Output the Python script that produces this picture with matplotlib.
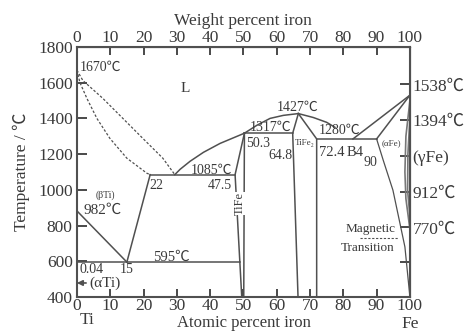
"""Ti-Fe phase diagram (atomic / weight percent iron vs temperature)."""

import matplotlib
matplotlib.use("Agg")
from matplotlib import pyplot as plt

plt.rcParams["font.family"] = ["Liberation Serif", "Noto Sans CJK JP", "DejaVu Serif"]

LINE = "#505050"
TEXT = "#3a3a3a"

# boundaries: x = atomic % Fe, t = temperature in C
liq_bti_x = [0, 1.8, 7.8, 13.8, 19.8, 25.8, 29.4]
liq_bti_t = [1670, 1612, 1512, 1400, 1288, 1177, 1085]
sol_bti_x = [0, 0.9, 3.0, 6.0, 9.9, 15.0, 21.0, 22]
sol_bti_t = [1670, 1601, 1512, 1400, 1288, 1177, 1093, 1085]

liq_tife_x = [29.4, 31, 34, 38, 43, 50.3]
liq_tife_t = [1085, 1115, 1160, 1210, 1260, 1317]
liq_peak_left_x = [50.3, 54, 58, 62, 66.5]
liq_peak_left_t = [1317, 1361, 1400, 1417, 1427]
liq_peak_right_x = [66.5, 71, 75, 77.5]
liq_peak_right_t = [1427, 1405, 1378, 1350]
liq_fe_x = [82.9, 100]
liq_fe_t = [1285, 1530]
sol_dfe_x = [90, 100]
sol_dfe_t = [1285, 1530]

bti_transus_x = [0, 15]
bti_transus_t = [882, 595]
bti_solvus_x = [15, 22]
bti_solvus_t = [595, 1085]

tife_left_x = [50.3, 47.5, 49.5]
tife_left_t = [1317, 1085, 400]
tife_right_x = [50.3, 50.1]
tife_right_t = [1317, 400]
tife2_left_x = [66.5, 64.8, 66.4]
tife2_left_t = [1427, 1317, 400]
tife2_right_x = [66.5, 72, 72]
tife2_right_t = [1427, 1285, 400]

afe_x = [90, 92, 94.9, 97, 98.5, 100]
afe_t = [1285, 1165, 998, 813, 680, 400]
gamma_outer_x = [100, 98.8, 98.5, 98.8, 100]
gamma_outer_t = [1500, 1300, 1100, 950, 780]
gamma_inner_x = [100, 99.4, 99.3, 100]
gamma_inner_t = [1400, 1200, 1000, 850]

iso_t = [1085, 1317, 1285, 595]
iso_x0 = [22, 50.3, 72, 0]
iso_x1 = [47.5, 64.8, 90, 48.9]

magnetic_x = [85, 96.4]
magnetic_t = [728, 728]

temp_ticks = [400, 600, 800, 1000, 1200, 1400, 1600, 1800]
pct_ticks = [0, 10, 20, 30, 40, 50, 60, 70, 80, 90, 100]
right_ticks = [1590, 1390, 1190, 990, 790, 595]
right_labels = ["1538℃", "1394℃", "(γFe)", "912℃", "770℃", ""]

# text labels: (x, t, text, size, alignment)
labels = [
    (0.8, 1685, "1670℃", 10, "left"),
    (32.4, 1567, "L", 11, "center"),
    (8.4, 970, "(βTi)", 7, "center"),
    (7.8, 886, "982℃", 11, "center"),
    (24, 1025, "22", 10, "center"),
    (40.5, 1110, "1085℃", 10, "center"),
    (43, 1025, "47.5", 10, "center"),
    (58, 1350, "1317℃", 10, "center"),
    (54.4, 1260, "50.3", 10, "center"),
    (61, 1193, "64.8", 10, "center"),
    (66.4, 1461, "1427℃", 10, "center"),
    (68.5, 1262, "TiFe₂", 6.5, "center"),
    (76.6, 1210, "72.4", 10.5, "center"),
    (83.5, 1210, "B4", 10.5, "center"),
    (79, 1333, "1280℃", 10, "center"),
    (94.6, 1262, "(αFe)", 6.5, "center"),
    (88, 1154, "90", 10, "center"),
    (28.5, 623, "595℃", 10.5, "center"),
    (0.8, 551, "0.04", 10, "left"),
    (15, 551, "15", 10, "center"),
    (88.3, 780, "Magnetic", 9.5, "center"),
    (87.4, 674, "Transition", 9.5, "center"),
]

fig = plt.figure(figsize=(4.69, 3.31), dpi=100)
ax = fig.add_axes([0.164, 0.103, 0.710, 0.755])

kw = dict(color=LINE, lw=1.1)
ax.plot(liq_bti_x, liq_bti_t, ls=(0, (2, 1.5)), color=LINE, lw=0.9)
ax.plot(sol_bti_x, sol_bti_t, ls=(0, (2, 1.5)), color=LINE, lw=0.9)
ax.plot(liq_tife_x, liq_tife_t, **kw)
ax.plot(liq_peak_left_x, liq_peak_left_t, **kw)
ax.plot(liq_peak_right_x, liq_peak_right_t, **kw)
ax.plot(liq_fe_x, liq_fe_t, **kw)
ax.plot(sol_dfe_x, sol_dfe_t, **kw)
ax.plot(bti_transus_x, bti_transus_t, **kw)
ax.plot(bti_solvus_x, bti_solvus_t, **kw)
ax.plot(tife_left_x, tife_left_t, **kw)
ax.plot(tife_right_x, tife_right_t, **kw)
ax.plot(tife2_left_x, tife2_left_t, **kw)
ax.plot(tife2_right_x, tife2_right_t, **kw)
ax.plot(afe_x, afe_t, color=LINE, lw=0.9)
ax.plot(gamma_outer_x, gamma_outer_t, color="#777777", lw=1.2)
ax.plot(gamma_inner_x, gamma_inner_t, color="#777777", lw=1.2)
for t, x0, x1 in zip(iso_t, iso_x0, iso_x1):
    ax.plot([x0, x1], [t, t], **kw)
ax.plot(magnetic_x, magnetic_t, ls=(0, (2, 1.5)), color=LINE, lw=0.8)

for x, t, s, size, ha in labels:
    ax.text(x, t, s, fontsize=size, color=TEXT, ha=ha, va="center")
ax.text(49, 925, "TiFe", fontsize=9, color=TEXT, rotation=90,
        ha="center", va="center",
        bbox=dict(facecolor="white", edgecolor="none", pad=0))
ax.annotate("(αTi)", xy=(0, 478), xytext=(3.6, 478), fontsize=11,
            color=TEXT, va="center",
            arrowprops=dict(arrowstyle="-|>", color=LINE, lw=1.2,
                            shrinkA=0, shrinkB=0, mutation_scale=8))

ax.set_xlim(0, 100)
ax.set_ylim(400, 1800)
ax.set_xticks(pct_ticks)
ax.set_yticks(temp_ticks)
ax.tick_params(direction="in", colors=TEXT, labelsize=12.5, width=1.3)
ax.tick_params(axis="y", length=7, pad=3)
ax.tick_params(axis="x", length=5.5, pad=1)
for sp in ax.spines.values():
    sp.set_color(LINE)
    sp.set_linewidth(1.5)

top = ax.secondary_xaxis("top")
top.set_xticks(pct_ticks)
top.tick_params(direction="in", length=5.5, width=1.3, colors=TEXT,
                labelsize=12.5, pad=1)
top.set_xlabel("Weight percent iron", fontsize=12.5, color=TEXT, labelpad=3)

right = ax.secondary_yaxis("right")
right.set_yticks(right_ticks, right_labels)
right.tick_params(direction="in", length=7, width=1.3, colors=TEXT,
                  labelsize=12.5, pad=2)

ax.set_ylabel("Temperature / ℃", fontsize=12.5, color=TEXT, labelpad=6)
fig.text(0.52, 0.0, "Atomic percent iron", fontsize=12, color=TEXT,
         ha="center", va="bottom")
fig.text(0.186, 0.058, "Ti", fontsize=12.5, color=TEXT, ha="center", va="top")
fig.text(0.874, 0.046, "Fe", fontsize=12.5, color=TEXT, ha="center", va="top")

fig.savefig("out.png", dpi=100)
